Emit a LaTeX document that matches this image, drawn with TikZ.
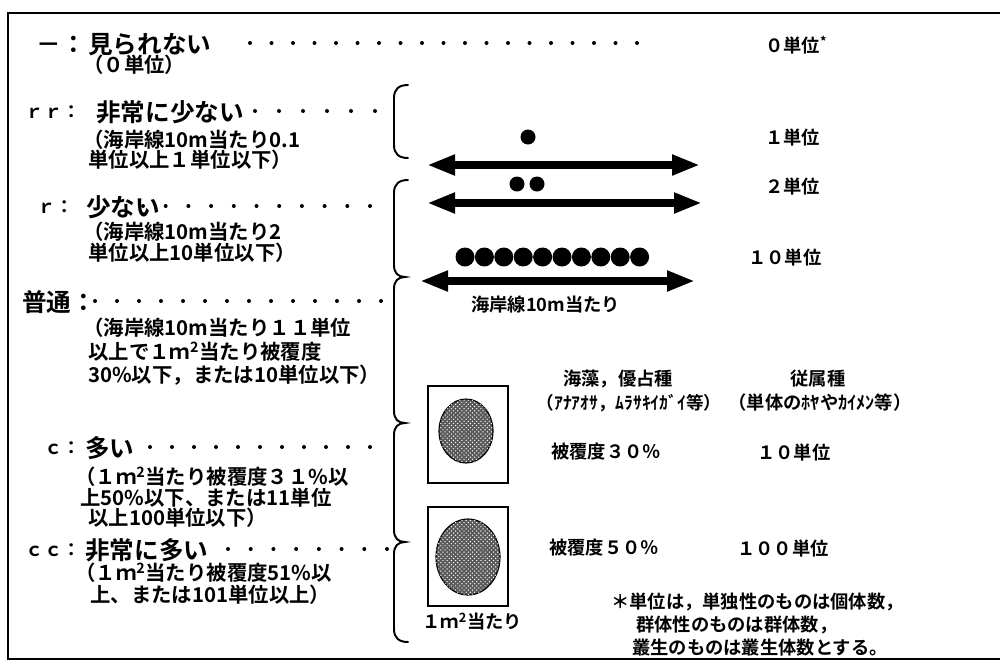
\documentclass[tikz,border=0pt]{standalone}
\usepackage{fontspec}
\setmainfont{Noto Sans CJK JP}[BoldFont={* Bold}]
\usetikzlibrary{arrows.meta,patterns}

\tikzset{
  big/.style={font=\bfseries\fontsize{17.5}{20}\selectfont, inner sep=0pt},
  code/.style={font=\bfseries\fontsize{13}{15}\selectfont, inner sep=0pt, anchor=east},
  sub/.style={font=\bfseries\fontsize{14.5}{16}\selectfont, inner sep=0pt, anchor=west},
  val/.style={font=\bfseries\fontsize{13}{15}\selectfont, inner sep=0pt},
  frame/.style={line width=2pt},
  brace/.style={line width=1.4pt, line cap=round},
  shore/.style={line width=5pt, {Triangle[length=7mm,width=4.8mm]}-{Triangle[length=7mm,width=4.8mm]}},
  quad/.style={line width=1.8pt},
  spot/.style={draw, line width=0.8pt, fill=black!65, postaction={pattern=crosshatch dots, pattern color=white}}
}

% x0, x1, gaps, y
\newcommand{\leaderdots}[4]{%
  \foreach \i in {0,...,#3} \fill ({#1+(#2-#1)*\i/#3},#4) circle (2);}

\begin{document}
\begin{tikzpicture}[x=0.025cm,y=-0.025cm]
\useasboundingbox (0,0) rectangle (1000,666);
\draw[frame] (1000,13) -- (8,13) -- (8,659) -- (1000,659);

% left column
\node[code, font=\bfseries\fontsize{17.5}{20}\selectfont] (c0) at (86,45) {－：};
\node[big, anchor=west] (l0) at (88,45) {見られない};
\leaderdots{250}{637}{18}{43}
\node[sub] (s0) at (83,65) {（０単位）};

\node[code] (c1) at (81,112) {ｒｒ：};
\node[big, anchor=west] (l1) at (96,112) {非常に少ない};
\leaderdots{255}{375}{5}{111}
\node[sub] (s1a) at (83,140) {（海岸線10m当たり0.1};
\node[sub] (s1b) at (88,160) {単位以上１単位以下）};

\node[code] (c2) at (74,207) {ｒ：};
\node[big, anchor=west] (l2) at (86,207) {少ない};
\leaderdots{143}{370}{10}{206}
\node[sub] (s2a) at (83,232) {（海岸線10m当たり2};
\node[sub] (s2b) at (88,253) {単位以上10単位以下）};

\node[big, anchor=west] (l3) at (22,302) {普通：};
\leaderdots{95}{381}{13}{301}
\node[sub] (s3a) at (83,328) {（海岸線10m当たり１１単位};
\node[sub] (s3b) at (88,352) {以上で１ｍ\textsuperscript{2}当たり被覆度};
\node[sub] (s3c) at (88,375) {30\%以下，または10単位以下）};

\node[code] (c4) at (81,448) {ｃ：};
\node[big, anchor=west] (l4) at (85,448) {多い};
\leaderdots{150}{370}{10}{447}
\node[sub] (s4a) at (75,477) {（１ｍ\textsuperscript{2}当たり被覆度３１\%以};
\node[sub] (s4b) at (80,498) {上50\%以下、または11単位};
\node[sub] (s4c) at (88,518) {以上100単位以下）};

\node[code] (c5) at (81,550) {ｃｃ：};
\node[big, anchor=west] (l5) at (85,550) {非常に多い};
\leaderdots{228}{387}{7}{549}
\node[sub] (s5a) at (75,573) {（１ｍ\textsuperscript{2}当たり被覆度51\%以};
\node[sub] (s5b) at (90,595) {上、または101単位以上）};

% brackets
\draw[brace] (408,85) .. controls (399,85) and (394,89) .. (394,98) -- (394,145)
  .. controls (394,154) and (399,158) .. (408,158);
\draw[brace] (408,180) .. controls (399,180) and (394,184) .. (394,193)
  -- (394,265) .. controls (394,273) and (398,277) .. (405,277)
  .. controls (398,277) and (394,281) .. (394,289)
  -- (394,411) .. controls (394,419) and (398,423) .. (405,423)
  .. controls (398,423) and (394,427) .. (394,435)
  -- (394,530) .. controls (394,538) and (398,542) .. (405,542)
  .. controls (398,542) and (394,546) .. (394,554)
  -- (394,629) .. controls (394,638) and (399,642) .. (408,642);

% shoreline scale
\fill (528,137) circle (7.5);
\coordinate (a1l) at (427,165);
\coordinate (a1r) at (700,165);
\draw[shore] (a1l) -- (a1r);
\fill (517,184) circle (7.5) (537,184) circle (7.5);
\coordinate (a2l) at (427,203);
\coordinate (a2r) at (702,203);
\draw[shore] (a2l) -- (a2r);
\foreach \i in {0,...,9} \fill (465+\i*19.4,257) circle (9.5);
\coordinate (a3l) at (420,281);
\coordinate (a3r) at (695,281);
\draw[shore] (a3l) -- (a3r);
\node[val, anchor=west] (shl) at (471,305) {海岸線10m当たり};

\node[val, anchor=west] (u0) at (765,45) {０単位\textsuperscript{*}};
\node[val, anchor=west] (u1) at (765,138) {１単位};
\node[val, anchor=west] (u2) at (765,187) {２単位};
\node[val, anchor=west] (u10) at (748,258) {１０単位};

% quadrats
\draw[quad] (428,386) rectangle (508,483);
\path[spot] (466,431) ellipse [x radius=27, y radius=32];
\draw[quad] (428,507) rectangle (508,606);
\path[spot] (468,557) ellipse [x radius=32, y radius=38];
\node[val, anchor=west] (qm) at (422,622) {１ｍ\textsuperscript{2}当たり};

\node[val] (h1) at (618,379) {海藻，優占種};
\node[val, font=\bfseries\fontsize{12.5}{14}\selectfont] (h1b) at (629,403) {（ｱﾅｱｵｻ，ﾑﾗｻｷｲｶﾞｲ等）};
\node[val] (h2) at (818,379) {従属種};
\node[val, font=\bfseries\fontsize{13}{14}\selectfont] (h2b) at (820,403) {（単体のﾎﾔやｶｲﾒﾝ等）};

\node[val, anchor=west] (p30) at (551,452) {被覆度３０％};
\node[val, anchor=west] (n10) at (757,452) {１０単位};
\node[val, anchor=west] (p50) at (549,548) {被覆度５０％};
\node[val, anchor=west] (n100) at (737,548) {１００単位};

\node[val, anchor=west] (f1) at (611,602) {＊単位は，単独性のものは個体数，};
\node[val, anchor=west] (f2) at (636,625) {群体性のものは群体数，};
\node[val, anchor=west] (f3) at (632,648) {叢生のものは叢生体数とする。};
\end{tikzpicture}
\end{document}
